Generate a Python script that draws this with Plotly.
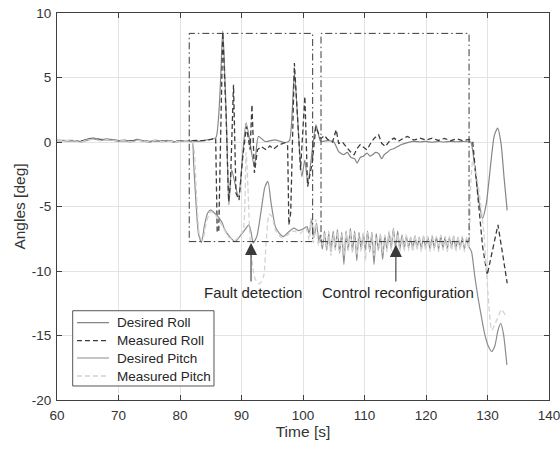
import plotly.graph_objects as go

# ---------------- data ----------------
t_pre = [60, 61, 62, 63, 64, 65, 66, 67, 68, 69, 70, 71, 72, 73, 74, 75, 76, 77, 78, 79, 80, 81]
dr_pre = [0.10, 0.12, 0.08, 0.10, 0.05, 0.25, 0.30, 0.15, 0.25, 0.18, 0.10, 0.15, 0.05, 0.20, 0.10, 0.02, 0.15, 0.05, 0.12, 0.02, 0.08, 0.10]
mr_pre = [0.12, 0.10, 0.10, 0.05, 0.08, 0.20, 0.28, 0.20, 0.20, 0.15, 0.12, 0.10, 0.08, 0.15, 0.12, 0.05, 0.10, 0.08, 0.10, 0.05, 0.10, 0.08]
dp_pre = [0.10, 0.10, 0.12, 0.10, 0.00, 0.15, 0.25, 0.10, 0.20, 0.15, 0.05, 0.12, 0.00, 0.15, 0.08, 0.00, 0.10, 0.02, 0.08, 0.00, 0.05, 0.10]
mp_pre = [0.08, 0.12, 0.10, 0.08, 0.02, 0.18, 0.22, 0.12, 0.18, 0.12, 0.08, 0.10, 0.02, 0.12, 0.10, 0.03, 0.12, 0.04, 0.06, 0.02, 0.06, 0.08]

# Desired Roll after 81 s
dr_t = [81.5, 82, 83, 84, 85, 85.85, 86.95, 87.3, 87.6, 87.95, 88.4, 89.5, 90.75, 92.1, 92.75, 93.85,
        95.5, 97.1, 97.8, 98.6, 99.8, 100.3, 100.8, 102.1, 102.8,
        103.1, 104, 105, 105.8, 106.6, 107.2, 107.8, 108.4, 108.8, 109.3, 109.8, 110.4, 110.9, 111.3,
        111.8, 112.3, 112.8, 113.2, 113.7, 114.2, 114.8, 115.4, 115.9, 117, 118, 119, 120, 121, 122,
        123, 124, 125, 126, 127, 127.3,
        128.0, 128.6, 129.2, 129.8, 130.5, 131.1, 131.65, 132.2, 132.7, 133.2]
dr_v = [0.05, 0.10, 0.05, 0.15, 0.20, 0.35, 8.60, 5.00, 0.80, -4.87, -2.16, -4.23, 1.49, -1.90, 0.43, 0.04,
        0.17, -0.05, 0.10, 5.35, -2.68, -1.40, -3.19, 1.33, 0.10,
        0.04, 0.10, 0.00, -0.74, -0.99, -0.80, -1.20, -1.30, -1.64, -1.20, -1.10, -0.86, -1.10, -0.99,
        -0.80, -0.90, -1.30, -0.99, -0.80, -0.60, -0.50, -0.35, -0.21, -0.05, 0.05, 0.00, 0.05, -0.02, 0.04,
        0.00, 0.05, 0.02, 0.04, 0.02, 0.00,
        -2.20, -4.60, -5.90, -4.80, -1.80, 0.50, 1.08, -0.10, -2.80, -5.30]

# Measured Roll after 81 s
mr_t = [81.5, 82, 83, 84, 85, 85.8, 86.05, 86.3, 86.95, 87.5, 87.9, 88.2, 88.7, 89.1, 89.6, 90.2, 90.8,
        91.4, 91.7, 92.1, 92.6, 93.2, 94.0, 94.6, 95.2, 96, 97, 97.5, 97.7, 98.0, 98.6, 99.6, 100.3,
        100.75, 101.5, 102.1, 102.8,
        103.0, 103.5, 104, 104.8, 105.4, 105.8, 106.4, 107.2, 107.7, 108.3, 108.8, 109.3, 109.8, 110.4,
        111.0, 111.6, 112.3, 112.8, 113.4, 114.1, 114.8, 115.5, 116.2, 117.0, 118, 119, 120, 121, 122,
        123, 124, 125, 126, 127,
        127.6, 128.4, 129.2, 129.96, 130.8, 131.7, 132.5, 133.2]
mr_v = [0.08, 0.10, 0.12, 0.10, 0.20, 0.30, -7.00, -6.90, 8.50, 2.00, -4.60, -3.20, 4.44, -3.96, -4.50, -1.20, 1.20,
        -0.60, 2.89, -2.39, -0.60, -0.35, -0.60, -0.30, -0.55, -0.25, -0.05, -0.30, -6.42, -5.50, 6.12, -2.16, 3.53,
        -3.45, -1.60, 1.20, 0.30,
        0.30, 0.50, 0.20, 0.00, 0.95, -0.10, 0.00, -0.47, -0.75, -0.99, -0.50, -0.21, -0.40, -0.60,
        -0.10, 0.30, 0.56, -0.10, -0.35, 0.10, 0.30, 0.05, 0.25, 0.43, 0.15, 0.30, 0.15, 0.30, 0.12,
        0.28, 0.10, 0.25, 0.10, 0.20,
        0.00, -4.00, -8.10, -10.30, -8.40, -6.42, -8.80, -10.95]

# Desired Pitch after 81 s (fault box)
dp_t = [81.5, 82.0, 82.2, 82.6, 83.0, 83.5, 84.0, 84.5, 85.0, 85.6, 86.2, 86.8, 87.3, 88.0, 88.95, 89.6,
        90.4, 91.2, 91.6, 91.9, 92.5, 93.2, 93.8, 94.3, 94.8, 95.5, 96.2, 96.8, 97.6, 98.5, 99.3, 100.0,
        100.65, 101.0, 101.4, 101.8, 102.2, 102.6]
dp_v = [0.05, 0.00, -1.50, -4.70, -7.10, -7.80, -6.40, -5.50, -5.26, -5.50, -5.78, -6.20, -6.81, -7.30, -7.72, -7.40,
        -6.90, -6.42, -7.10, -7.84, -7.30, -5.30, -3.50, -3.06, -4.70, -6.56, -7.10, -7.33, -7.00, -6.68, -6.87, -6.75,
        -6.56, -7.10, -6.00, -7.40, -6.30, -7.80]

# Oscillating pitch during control reconfiguration
t_osc = [102.8, 103.15, 103.5, 103.85, 104.2, 104.55, 104.9, 105.25, 105.6, 105.95,
         106.3, 106.65, 107.0, 107.35, 107.7, 108.05, 108.4, 108.75, 109.1, 109.45,
         109.8, 110.15, 110.5, 110.85, 111.2, 111.55, 111.9, 112.25, 112.6, 112.95,
         113.3, 113.65, 114.0, 114.35, 114.7, 115.05, 115.4, 115.75, 116.1, 116.45,
         116.8, 117.15, 117.5, 117.85, 118.2, 118.55, 118.9, 119.25, 119.6, 119.95,
         120.3, 120.65, 121.0, 121.35, 121.7, 122.05, 122.4, 122.75, 123.1, 123.45,
         123.8, 124.15, 124.5, 124.85, 125.2, 125.55, 125.9, 126.25, 126.6, 126.95]
dp_osc = [-7.2, -8.3, -6.9, -8.4, -7.1, -8.5, -6.9, -8.3, -6.8, -8.6,
          -7.0, -9.5, -6.9, -8.4, -6.7, -8.5, -6.9, -9.2, -7.0, -8.3,
          -7.1, -8.4, -6.9, -8.5, -7.0, -9.5, -7.1, -8.4, -7.2, -9.1,
          -7.3, -8.3, -7.0, -8.2, -6.7, -8.2, -6.9, -8.3, -7.2, -8.3,
          -7.3, -8.2, -7.4, -8.3, -7.3, -8.2, -7.4, -8.3, -7.3, -8.2,
          -7.4, -8.3, -7.3, -8.2, -7.4, -8.3, -7.3, -8.2, -7.4, -8.3,
          -7.4, -8.2, -7.3, -8.3, -7.4, -8.2, -7.4, -8.3, -7.5, -8.1]
mp_osc = [-7.5, -8.0, -7.0, -8.3, -6.9, -8.8, -7.1, -8.4, -6.9, -8.5,
          -7.2, -8.8, -7.0, -8.4, -6.8, -8.6, -7.1, -8.8, -7.2, -8.5,
          -7.0, -9.2, -7.0, -8.4, -7.1, -8.8, -7.3, -8.4, -7.1, -8.6,
          -7.2, -8.5, -6.9, -8.4, -6.8, -8.4, -7.1, -8.5, -7.3, -8.5,
          -7.2, -8.4, -7.3, -8.5, -7.2, -8.4, -7.3, -8.5, -7.2, -8.4,
          -7.3, -8.5, -7.2, -8.4, -7.3, -8.5, -7.2, -8.4, -7.3, -8.5,
          -7.3, -8.4, -7.2, -8.5, -7.3, -8.4, -7.3, -8.5, -7.4, -8.3]

# Desired Pitch after the reconfiguration box
dp_post_t = [127.4, 127.9, 128.4, 128.8, 129.5, 130.1, 130.7, 131.2, 131.7, 132.15, 132.6, 133.15]
dp_post_v = [-8.5, -10.3, -11.9, -13.0, -14.8, -15.8, -16.25, -15.8, -14.6, -14.05, -14.9, -17.28]

# Measured Pitch (fault box)
mp_t = [81.5, 82.0, 82.3, 82.7, 83.2, 83.7, 84.3, 85.0, 86.0, 87.0, 88.0, 89.0, 89.8, 90.3, 90.75, 91.0,
        91.5, 92.2, 92.9, 93.6, 94.0, 94.5, 95.0, 95.5, 96.5, 97.5, 98.5, 99.5, 100.5, 101.0, 101.3,
        101.7, 102.1, 102.5]
mp_v = [0.05, 0.00, -0.60, -4.20, -7.30, -7.60, -6.20, -5.40, -5.80, -6.60, -7.40, -7.60, -7.20, -6.80, -0.80, -3.00,
        -8.30, -10.60, -11.00, -10.40, -7.80, -5.60, -5.80, -6.80, -7.40, -7.20, -6.90, -7.10, -6.70, -7.60, -5.90,
        -7.80, -6.00, -8.00]
mp_post_t = [127.3, 127.6, 128.2, 128.8, 129.4, 129.9, 130.7, 131.5, 132.3, 133.0]
mp_post_v = [-3.0, -1.5, -2.5, -4.5, -7.0, -10.5, -14.57, -13.8, -13.0, -13.54]

# Dash-dot boxes and annotations
box_x0 = [81.5, 102.93]
box_x1 = [101.57, 127.0]
box_y0 = [-7.72, -7.72]
box_y1 = [8.42, 8.42]
ann_text = ["Fault detection", "Control reconfiguration"]
ann_text_x = [91.9, 115.4]
ann_text_y = [-11.7, -11.7]
arrow_x = [91.55, 115.1]
arrow_tip_y = [-7.82, -7.97]
arrow_tail_y = [-10.93, -10.93]

x_ticks = [60, 70, 80, 90, 100, 110, 120, 130, 140]
x_ticktext = ["60", "70", "80", "90", "100", "110", "120", "130", "140"]
y_ticks = [-20, -15, -10, -5, 0, 5, 10]
y_ticktext = ["-20", "-15", "-10", "-5", "0", "5", "10"]

series_names = ["Desired Roll", "Measured Roll", "Desired Pitch", "Measured Pitch"]

# ---------------- styling ----------------
FONT = "Liberation Sans, Arial, Helvetica, sans-serif"
colors = ["#858585", "#3c3c3c", "#8c8c8c", "#d2d2d2"]
dashes = ["solid", "5px,3px", "solid", "5px,3px"]
widths = [1.2, 1.3, 1.2, 1.3]

xs = [t_pre + dr_t, t_pre + mr_t, t_pre + dp_t + t_osc + dp_post_t, t_pre + mp_t + t_osc + mp_post_t]
ys = [dr_pre + dr_v, mr_pre + mr_v, dp_pre + dp_v + dp_osc + dp_post_v, mp_pre + mp_v + mp_osc + mp_post_v]
shapes_ = ["spline", "linear", "spline", "spline"]

fig = go.Figure()
for i in range(4):
    line = dict(color=colors[i], width=widths[i], dash=dashes[i], shape=shapes_[i])
    if shapes_[i] == "spline":
        line["smoothing"] = 0.6
    fig.add_trace(go.Scatter(x=xs[i], y=ys[i], mode="lines", name=series_names[i],
                             line=line, showlegend=False))

for i in range(len(box_x0)):
    fig.add_shape(type="rect", xref="x", yref="y", x0=box_x0[i], x1=box_x1[i], y0=box_y0[i], y1=box_y1[i],
                  line=dict(color="#3a3a3a", width=1, dash="7px,3px,1.5px,3px"))

for i in range(len(ann_text)):
    fig.add_annotation(x=arrow_x[i], y=arrow_tip_y[i], ax=arrow_x[i], ay=arrow_tail_y[i],
                       xref="x", yref="y", axref="x", ayref="y", text="", showarrow=True,
                       arrowhead=2, arrowsize=2.2, arrowwidth=1.1, arrowcolor="#3a3a3a")
    fig.add_annotation(x=ann_text_x[i], y=ann_text_y[i], xref="x", yref="y", text=ann_text[i],
                       showarrow=False, font=dict(family=FONT, size=15, color="#262626"))

# legend box (drawn in paper coordinates, MATLAB style)
leg_x0, leg_x1, leg_y0, leg_y1 = 0.0319, 0.3191, 0.0362, 0.2307
row_y = [0.1997, 0.1532, 0.1085, 0.0620]
fig.add_shape(type="rect", xref="paper", yref="paper", x0=leg_x0, x1=leg_x1, y0=leg_y0, y1=leg_y1,
              line=dict(color="#555555", width=1), fillcolor="white")
for i in range(4):
    fig.add_shape(type="line", xref="paper", yref="paper", x0=0.0407, x1=0.1057, y0=row_y[i], y1=row_y[i],
                  line=dict(color=colors[i], width=widths[i], dash=dashes[i]))
    fig.add_annotation(x=0.1179, y=row_y[i], xref="paper", yref="paper", text=series_names[i],
                       showarrow=False, xanchor="left", yanchor="middle",
                       font=dict(family=FONT, size=13.5, color="#262626"))

axis_common = dict(showline=True, linecolor="#404040", linewidth=1, mirror="allticks",
                   ticks="inside", ticklen=5, tickcolor="#404040", showgrid=True,
                   gridcolor="#e3e3e3", gridwidth=1, zeroline=False, automargin=False,
                   ticklabeloverflow="allow",
                   tickfont=dict(family=FONT, size=13.5, color="#333333"))

fig.update_xaxes(range=[60, 140], tickvals=x_ticks, ticktext=x_ticktext, ticklabelstandoff=3,
                 title=dict(text="Time [s]", font=dict(family=FONT, size=15.5, color="#333333"), standoff=2),
                 **axis_common)
fig.update_yaxes(range=[-20, 10], tickvals=y_ticks, ticktext=y_ticktext, ticklabelstandoff=2,
                 title=dict(text="Angles [deg]", font=dict(family=FONT, size=15.5, color="#333333"), standoff=2),
                 **axis_common)

fig.update_layout(
    width=560, height=451,
    margin=dict(l=57, r=11, t=13, b=51),
    paper_bgcolor="white", plot_bgcolor="white",
    showlegend=False,
)

# remove the browser's default 8px body margin so the figure fills the window exactly
fig.write_html("out.html", config={"displayModeBar": False},
               post_script="document.body.style.margin='0';")
